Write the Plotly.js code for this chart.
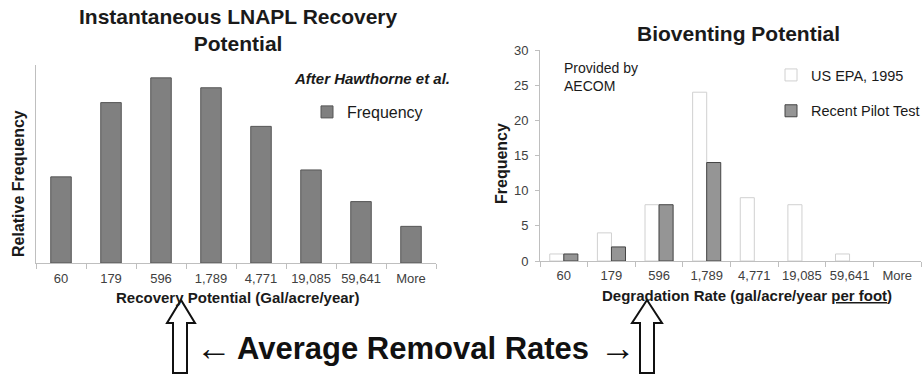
<!DOCTYPE html>
<html>
<head>
<meta charset="utf-8">
<script src="https://cdn.plot.ly/plotly-3.0.1.min.js"></script>
<style>html,body{margin:0;padding:0;background:#fff;}#chart{width:924px;height:378px;}</style>
</head>
<body>
<div id="chart"></div>
<script>
// ---- data ----
var categories = ['60', '179', '596', '1,789', '4,771', '19,085', '59,641', 'More'];
var lnaplRelFreq = [0.087, 0.162, 0.187, 0.177, 0.138, 0.094, 0.062, 0.037];
var epa1995 = [1, 4, 8, 24, 9, 8, 1, 0];
var pilotTests = [1, 2, 8, 14, 0, 0, 0, 0];
var bioTicks = [0, 5, 10, 15, 20, 25, 30];

var W = 924, H = 378;
function px(x) { return x / W; }
function py(y) { return 1 - y / H; }
function P(x, y) { return px(x) + ',' + py(y); }
function arrowPath(l, r, sl, sr, tip, baseY, botY) {
  var c = (l + r) / 2;
  return 'M' + P(sl, botY) + ' L' + P(sl, baseY) + ' L' + P(l, baseY) + ' L' + P(c, tip) +
    ' L' + P(r, baseY) + ' L' + P(sr, baseY) + ' L' + P(sr, botY) + ' Z';
}
// empty bins are not drawn (no zero-height outline)
function hideZero(arr) { return arr.map(function (v) { return v === 0 ? null : v; }); }

var FONT = 'Liberation Sans, Arial, sans-serif';
var AX = '#bfbfbf';
var TXT = '#1a1a1a';
var TICK = '#404040';

var traces = [
  {
    type: 'bar', name: 'Frequency', x: categories, y: lnaplRelFreq,
    xaxis: 'x', yaxis: 'y', width: 0.41, legend: 'legend', showlegend: true,
    marker: {color: '#808080', line: {color: '#555555', width: 1}},
    hoverinfo: 'skip'
  },
  {
    type: 'bar', name: 'US EPA, 1995', x: categories, y: hideZero(epa1995),
    xaxis: 'x2', yaxis: 'y2', width: 0.295, offset: -0.295, legend: 'legend2', legendgroup: 'a', showlegend: true,
    marker: {color: '#ffffff', line: {color: '#d0d0d0', width: 1}},
    hoverinfo: 'skip'
  },
  {
    type: 'bar', name: 'Recent Pilot Test', x: categories, y: hideZero(pilotTests),
    xaxis: 'x2', yaxis: 'y2', width: 0.295, offset: 0, legend: 'legend2', legendgroup: 'b', showlegend: true,
    marker: {color: '#959595', line: {color: '#444444', width: 1}},
    hoverinfo: 'skip'
  }
];

var xCommon = {
  type: 'category', range: [-0.5, 7.5], showline: true, linecolor: AX, linewidth: 1,
  ticks: 'outside', tickson: 'boundaries', ticklen: 5, tickcolor: AX, tickangle: 0,
  ticklabelstandoff: 3,
  tickfont: {family: FONT, size: 13, color: TICK}, showgrid: false, zeroline: false, fixedrange: true
};

var layout = {
  width: W, height: H,
  margin: {l: 0, r: 0, t: 0, b: 0, autoexpand: false},
  paper_bgcolor: '#ffffff', plot_bgcolor: '#ffffff',
  font: {family: FONT, color: TXT},
  barmode: 'overlay',
  showlegend: true,
  xaxis: Object.assign({}, xCommon, {domain: [px(36), px(436)], anchor: 'y'}),
  yaxis: {
    domain: [py(263), py(65)], range: [0, 0.2], anchor: 'x',
    showline: true, linecolor: AX, linewidth: 1, ticks: '', showticklabels: false,
    showgrid: false, zeroline: false, fixedrange: true
  },
  xaxis2: Object.assign({}, xCommon, {domain: [px(540), px(921)], anchor: 'y2', ticklabelstandoff: 2}),
  yaxis2: {
    domain: [py(261), py(50)], range: [0, 30], anchor: 'x2',
    tickmode: 'array', tickvals: bioTicks, ticktext: bioTicks.map(String),
    showline: true, linecolor: AX, linewidth: 1, ticks: 'outside', ticklen: 4, tickcolor: AX,
    ticklabelstandoff: 4,
    tickfont: {family: FONT, size: 13, color: TICK},
    showgrid: false, zeroline: false, fixedrange: true
  },
  legend: {
    x: px(307), xanchor: 'left', y: py(112), yanchor: 'middle',
    font: {family: FONT, size: 16, color: TXT}, bgcolor: 'rgba(0,0,0,0)', borderwidth: 0
  },
  legend2: {
    x: px(771), xanchor: 'left', y: py(93), yanchor: 'middle',
    traceorder: 'grouped', tracegroupgap: 14,
    font: {family: FONT, size: 14.5, color: TXT}, bgcolor: 'rgba(0,0,0,0)', borderwidth: 0
  },
  annotations: [
    {text: '<b>Instantaneous LNAPL Recovery<br>Potential</b>', x: px(239), y: py(30),
      xref: 'paper', yref: 'paper', xanchor: 'center', yanchor: 'middle', showarrow: false,
      font: {family: FONT, size: 21, color: TXT}},
    {text: '<b>Bioventing Potential</b>', x: px(738), y: py(33),
      xref: 'paper', yref: 'paper', xanchor: 'center', yanchor: 'middle', showarrow: false,
      font: {family: FONT, size: 21, color: TXT}},
    {text: '<b><i>After Hawthorne et al.</i></b>', x: px(452), y: py(79),
      xref: 'paper', yref: 'paper', xanchor: 'right', yanchor: 'middle', showarrow: false,
      font: {family: FONT, size: 15, color: TXT}},
    {text: 'Provided by<br>AECOM', x: px(562), y: py(77), align: 'left',
      xref: 'paper', yref: 'paper', xanchor: 'left', yanchor: 'middle', showarrow: false,
      font: {family: FONT, size: 14, color: TXT}},
    {text: '<b>Relative Frequency</b>', x: px(18), y: py(184), textangle: -90,
      xref: 'paper', yref: 'paper', xanchor: 'center', yanchor: 'middle', showarrow: false,
      font: {family: FONT, size: 16, color: TXT}},
    {text: '<b>Frequency</b>', x: px(501), y: py(164), textangle: -90,
      xref: 'paper', yref: 'paper', xanchor: 'center', yanchor: 'middle', showarrow: false,
      font: {family: FONT, size: 16, color: TXT}},
    {text: '<b>Recovery Potential (Gal/acre/year)</b>', x: px(237), y: py(297),
      xref: 'paper', yref: 'paper', xanchor: 'center', yanchor: 'middle', showarrow: false,
      font: {family: FONT, size: 15, color: TXT}},
    {text: '<b>Degradation Rate (gal/acre/year <span style="text-decoration:underline">per foot</span>)</b>',
      x: px(747), y: py(295),
      xref: 'paper', yref: 'paper', xanchor: 'center', yanchor: 'middle', showarrow: false,
      font: {family: FONT, size: 15, color: TXT}},
    {text: '<b>\u2190</b>', x: px(214), y: py(347),
      xref: 'paper', yref: 'paper', xanchor: 'center', yanchor: 'middle', showarrow: false,
      font: {family: FONT, size: 36, color: '#111111'}},
    {text: '<b>Average Removal Rates</b>', x: px(413), y: py(348),
      xref: 'paper', yref: 'paper', xanchor: 'center', yanchor: 'middle', showarrow: false,
      font: {family: FONT, size: 31, color: '#111111'}},
    {text: '<b>\u2192</b>', x: px(618), y: py(347),
      xref: 'paper', yref: 'paper', xanchor: 'center', yanchor: 'middle', showarrow: false,
      font: {family: FONT, size: 36, color: '#111111'}}
  ],
  shapes: [
    {type: 'path', xref: 'paper', yref: 'paper', path: arrowPath(167, 195, 173, 187, 300, 323, 373),
      line: {color: '#111111', width: 2}, fillcolor: '#ffffff'},
    {type: 'path', xref: 'paper', yref: 'paper', path: arrowPath(632, 662, 640, 654, 300, 323, 373),
      line: {color: '#111111', width: 2}, fillcolor: '#ffffff'}
  ]
};

Plotly.newPlot('chart', traces, layout, {displayModeBar: false, staticPlot: true});
</script>
</body>
</html>
